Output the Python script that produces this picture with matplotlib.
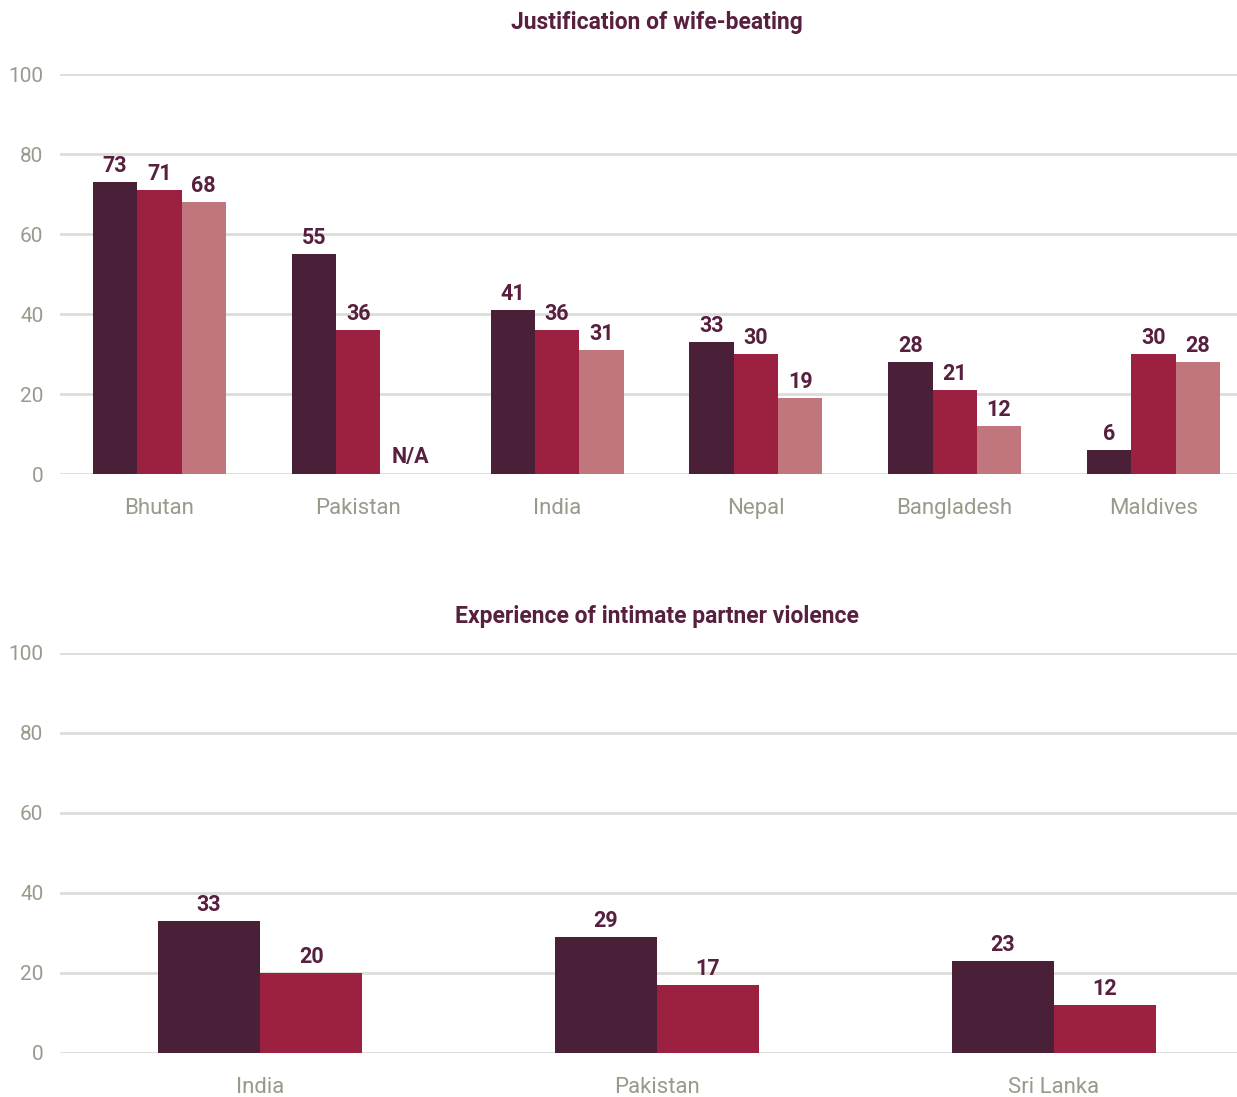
import numpy as np
import matplotlib.pyplot as plt

# Data
top_countries = ['Bhutan', 'Pakistan', 'India', 'Nepal', 'Bangladesh', 'Maldives']
top_s1 = [73, 55, 41, 33, 28, 6]
top_s2 = [71, 36, 36, 30, 21, 30]
top_s3 = [68, None, 31, 19, 12, 28]   # None = N/A

bot_countries = ['India', 'Pakistan', 'Sri Lanka']
bot_s1 = [33, 29, 23]
bot_s2 = [20, 17, 12]

yticks = [0, 20, 40, 60, 80, 100]

C_DARK = '#4a2039'
C_RED = '#9c2141'
C_PINK = '#c0767c'
C_TEXT = '#58203f'
C_TICK = '#9a9a8c'
C_GRID = '#dcdcd8'

plt.rcParams['font.family'] = ['Roboto', 'DejaVu Sans']

fig = plt.figure(figsize=(12.37, 10.97), dpi=100)
W, H = 1237.0, 1097.0


def style_axes(ax, xlim):
    ax.set_ylim(0, 100)
    ax.set_xlim(*xlim)
    ax.set_yticks(yticks)
    ax.grid(axis='y', color=C_GRID, linewidth=2)
    ax.set_axisbelow(True)
    for s in ax.spines.values():
        s.set_visible(False)
    ax.tick_params(axis='both', length=0, labelcolor=C_TICK)
    ax.tick_params(axis='y', pad=12, labelsize=15)
    ax.tick_params(axis='x', pad=17, labelsize=16)


def label_bars(ax, xs, vals, na_shift=0.0):
    for x, v in zip(xs, vals):
        if v is None:
            ax.text(x + na_shift, 1.5, 'N/A', ha='center', va='bottom', fontsize=15.5,
                    fontweight='bold', color=C_TEXT)
        else:
            ax.text(x, v + 1.2, str(v), ha='center', va='bottom', fontsize=15.5,
                    fontweight='bold', color=C_TEXT)


# Top chart
ax1 = fig.add_axes([60 / W, 1 - 474 / H, (W - 60) / W, 400 / H])
x = np.arange(len(top_countries))
w = 0.223
s3_vals = [0 if v is None else v for v in top_s3]
ax1.bar(x - w, top_s1, w, color=C_DARK)
ax1.bar(x, top_s2, w, color=C_RED)
ax1.bar(x + w, s3_vals, w, color=C_PINK)
label_bars(ax1, x - w, top_s1)
label_bars(ax1, x, top_s2)
label_bars(ax1, x + w, top_s3, na_shift=0.04)
style_axes(ax1, (-0.50, 5.42))
ax1.set_xticks(x)
ax1.set_xticklabels(top_countries)
fig.text(657 / W, 1 - 22 / H, 'Justification of wife-beating', ha='center', va='center',
         fontsize=16.5, fontweight='bold', color=C_TEXT)

# Bottom chart
ax2 = fig.add_axes([60 / W, 1 - 1053 / H, (W - 60) / W, 400 / H])
xb = np.arange(len(bot_countries))
wb = 0.257
ax2.bar(xb - wb / 2, bot_s1, wb, color=C_DARK)
ax2.bar(xb + wb / 2, bot_s2, wb, color=C_RED)
label_bars(ax2, xb - wb / 2, bot_s1)
label_bars(ax2, xb + wb / 2, bot_s2)
style_axes(ax2, (-0.504, 2.461))
ax2.set_xticks(xb)
ax2.set_xticklabels(bot_countries)
fig.text(657 / W, 1 - 616 / H, 'Experience of intimate partner violence', ha='center',
         va='center', fontsize=16.5, fontweight='bold', color=C_TEXT)

fig.savefig('out.png', dpi=100)
